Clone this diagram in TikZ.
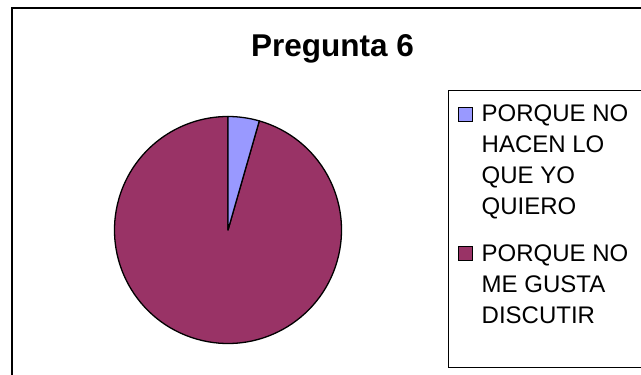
\documentclass[tikz,border=0pt]{standalone}
\usepackage{fontspec}
\setmainfont{Liberation Sans}
\usepackage{tikz}
\usepackage{color}

\definecolor{sliceblue}{HTML}{9999FF}
\definecolor{slicered}{HTML}{993366}

\tikzset{
    slice/.style={draw=black, line width=1.3pt, line join=round},
    keybox/.style={draw=black, line width=1pt, minimum size=14pt, inner sep=0pt},
    keytext/.style={anchor=north west, inner sep=0pt, align=left,
        font=\fontsize{24}{31}\selectfont}
}

\begin{document}
\begin{tikzpicture}[x=1pt, y=1pt]
    \useasboundingbox (0, 0) rectangle (641, 375);

    % chart frame
    \draw[black, line width=1.8pt] (12, 0) -- (12, 367) -- (641, 367);

    \node[anchor=base, font=\fontsize{31.5}{36}\selectfont\bfseries] (title) at (332.5, 318) {Pregunta 6};

    % pie
    \coordinate (centre) at (228, 145);
    \draw[slice, fill=slicered] (centre) -- ++(74:113.5) arc (74:-270:113.5) -- cycle;
    \draw[slice, fill=sliceblue] (centre) -- ++(90:113.5) arc (90:74:113.5) -- cycle;

    % legend
    \draw[black, line width=0.6pt] (641, 285) -- (448, 285) -- (448, 8) -- (641, 8);
    \node[keybox, fill=sliceblue] (keyA) at (465.5, 260.5) {};
    \node[keytext] (textA) at (481.5, 270.5) {PORQUE NO\\HACEN LO\\QUE YO\\QUIERO};
    \node[keybox, fill=slicered] (keyB) at (465.5, 121) {};
    \node[keytext] (textB) at (481.5, 130.5) {PORQUE NO\\ME GUSTA\\DISCUTIR};

    \end{tikzpicture}
\end{document}
